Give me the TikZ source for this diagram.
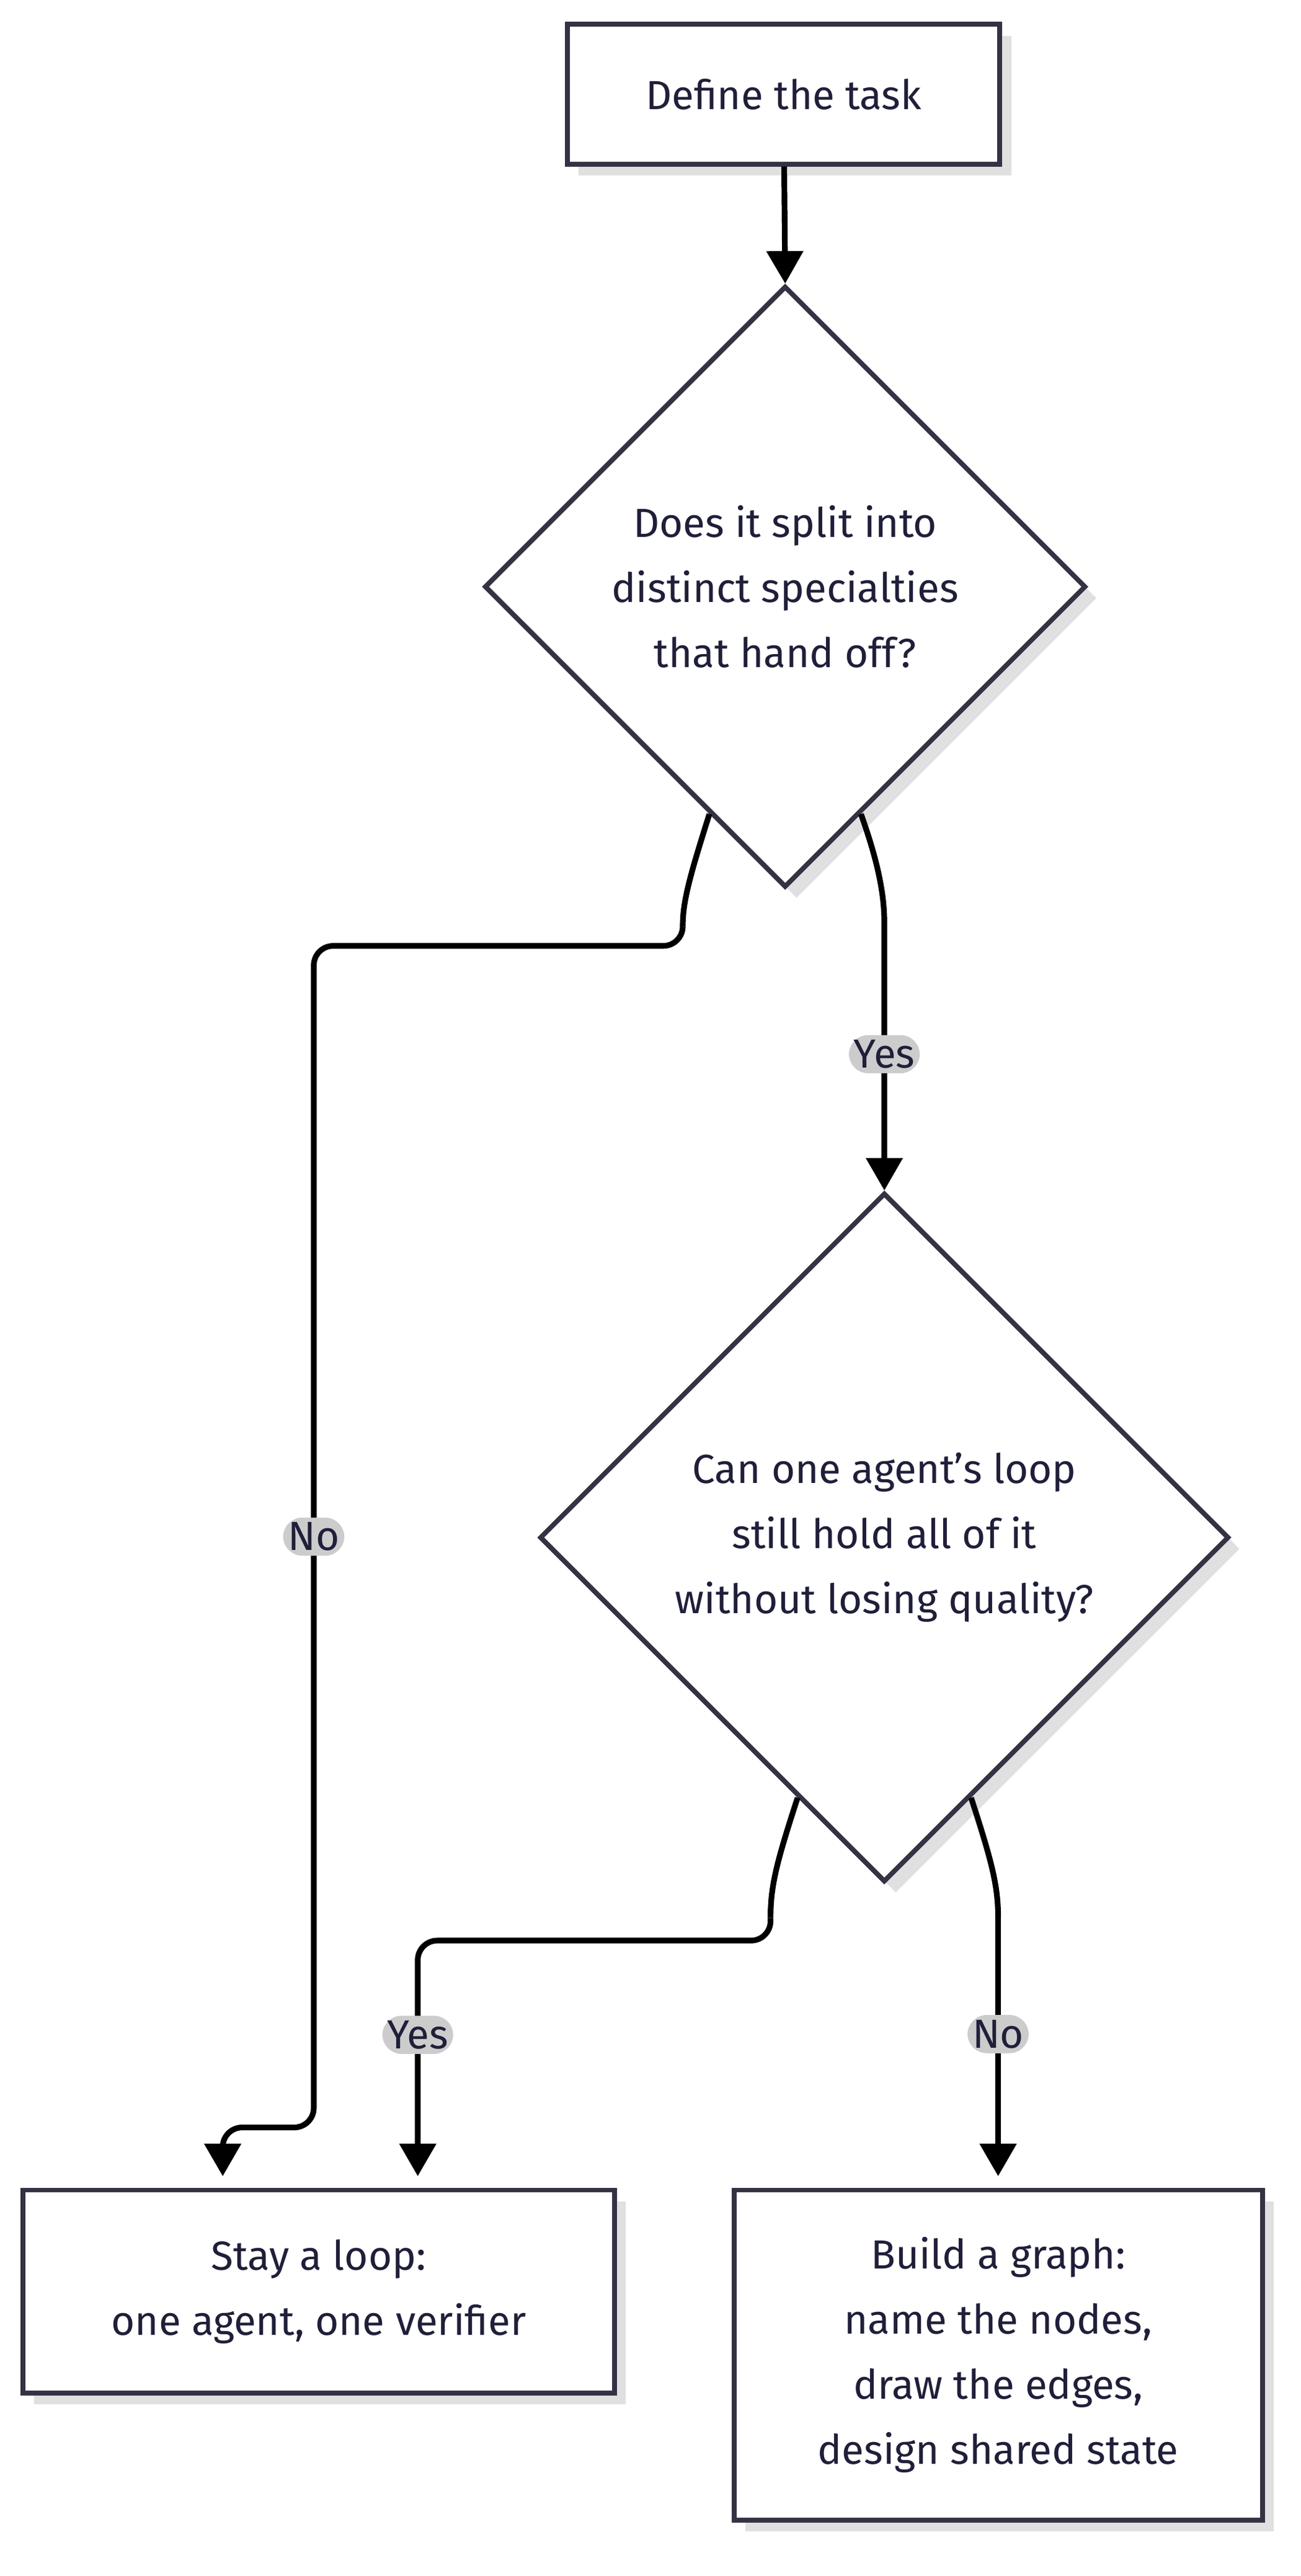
\documentclass[tikz,border=0pt]{standalone}
\usepackage{fontspec}
\setmainfont{Fira Sans}
\usetikzlibrary{shapes.geometric,arrows.meta,calc,shadows}
\definecolor{ink}{HTML}{1F1F3A}
\definecolor{edge}{HTML}{333344}
\definecolor{lbl}{HTML}{CCCCCC}
\tikzset{
 every node/.style={font=\fontsize{25}{40}\selectfont, text=ink},
 shad/.style={drop shadow={shadow xshift=7pt,shadow yshift=-7pt,fill=black,opacity=0.12}},
 boxnode/.style={draw=edge,line width=3pt,fill=white,shad,align=center,inner sep=0},
 dia/.style={diamond,aspect=1,draw=edge,line width=3pt,fill=white,shad,inner sep=0},
 conn/.style={line width=3.5pt,black,rounded corners=12pt,-{Triangle[length=20pt,width=22pt]}},
 elab/.style={fill=lbl,inner sep=3pt,font=\fontsize{25}{30}\selectfont}
}
\begin{document}
\begin{tikzpicture}[x=1pt,y=-1pt]
\useasboundingbox (0,0) rectangle (800,1585);
\node[boxnode,minimum width=266,minimum height=86] (a) at (482,58) {Define the task};
\node[dia,minimum width=370,minimum height=370] (d1) at (483,361) {};
\node[align=center] at (d1.center) {Does it split into\\distinct specialties\\that hand off?};
\node[dia,minimum width=424,minimum height=424] (d2) at (544,946) {};
\node[align=center] at (d2.center) {Can one agent's loop\\still hold all of it\\without losing quality?};
\node[boxnode,minimum width=364,minimum height=125] (s) at (196,1410) {Stay a loop:\\one agent, one verifier};
\node[boxnode,minimum width=325,minimum height=203] (b) at (614,1449) {Build a graph:\\name the nodes,\\draw the edges,\\design shared state};

\draw[conn] (a) -- (d1.north);
\coordinate (d1r) at ($(d1.south)!0.5!(d1.south east)$);
\coordinate (d1l) at ($(d1.south)!0.5!(d1.south west)$);
\coordinate (d2r) at ($(d2.south)!0.5!(d2.south east)$);
\coordinate (d2l) at ($(d2.south)!0.5!(d2.south west)$);
\draw[conn] (d1r) .. controls (540,530) and (544,550) .. (544,580) -- (d2.north) node[pos=0.45,elab]{Yes};
\draw[line width=3.5pt,black] (d1l) .. controls (424,540) and (420,555) .. (420,570);
\draw[conn] (420,570) -- (420,582) -- (193,582) -- (193,1309) node[pos=0.5,elab]{No} -- (137,1309) -- (137,1339);
\draw[line width=3.5pt,black] (d2l) .. controls (478,1145) and (474,1160) .. (474,1180);
\draw[conn] (474,1180) -- (474,1194) -- (257,1194) -- (257,1339) node[pos=0.4,elab]{Yes};
\draw[line width=3.5pt,black] (d2r) .. controls (610,1145) and (614,1160) .. (614,1180);
\draw[conn] (614,1180) -- (614,1339) node[pos=0.45,elab]{No};
\end{tikzpicture}
\end{document}
